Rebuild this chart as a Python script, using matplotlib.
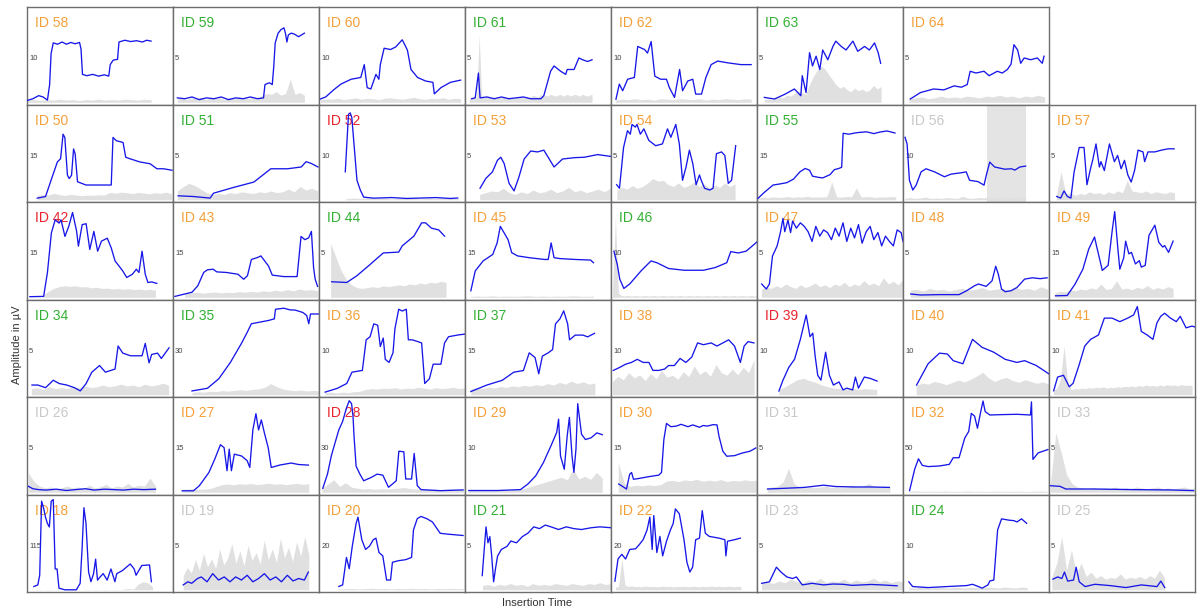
import numpy as np
import matplotlib.pyplot as plt

plt.rcParams['font.family'] = ['Liberation Sans', 'DejaVu Sans']

# (time %, amplitude uV) breakpoints of every recording trace
trace_58 = [(0, .4), (4, .8), (8, 1.5), (11, 1.2), (14, .5), (15.5, 4), (16.5, 11), (18, 13.4), (21, 13.1), (24, 13.6), (27, 13.1), (30, 13.5), (33, 13.2), (36, 13.5), (37, 12), (38, 6.3), (41, 6.0), (45, 6.3), (49, 5.9), (53, 6.2), (56, 5.9), (57, 8.5), (59, 9.5), (62, 9.7), (63, 13.6), (67, 14.0), (71, 13.7), (75, 13.9), (79, 13.6), (82, 14.0), (85, 13.8)]
trace_59 = [(3, .5), (8, .4), (13, .6), (18, .3), (23, .5), (28, .4), (33, .6), (38, .3), (43, .5), (48, .4), (53, .6), (58, .4), (62, .5), (63, 2.0), (66, 2.2), (68, 2.0), (69, 4), (70, 6.7), (72, 7.8), (74, 8.2), (76, 8.4), (77, 7.8), (78, 6.8), (79, 7.6), (81, 7.8), (83, 7.7), (86, 7.4), (88, 7.6), (90, 7.8)]
trace_60 = [(1, .75), (4.6, 1.2), (10, 2.8), (15, 4.1), (22, 5.2), (28.6, 5.6), (31, 8.5), (33, 3.3), (35.5, 3.0), (39, 6.3), (41, 5.2), (42, 8.5), (44.6, 12.2), (49, 11.9), (52.6, 12.5), (57, 14.1), (59.5, 12.5), (60.6, 11.7), (63, 7.4), (67.5, 5.6), (73, 4.8), (78, 4.5), (79, 1.9), (83.5, 3.3), (90, 4.5), (97, 5.0)]
trace_61 = [(4.6, .4), (7, .5), (9.2, 3.3), (10.3, .5), (15, .6), (20, .4), (25, .6), (30, .4), (35, .5), (40, .6), (45, .4), (52, .4), (54, .75), (58.6, 3.5), (61, 4.1), (65.5, 3.5), (69, 3.15), (70, 3.7), (74.7, 3.7), (78, 5.0), (80.5, 4.8), (84, 4.6), (87, 4.8)]
trace_62 = [(3.4, .7), (5.7, 4.1), (8, 2.6), (11.4, 5.2), (16, 5.6), (18.3, 12.6), (23, 11.9), (25, 11.1), (27.5, 13.7), (30, 5.9), (34, 5.2), (38, 5.2), (40, 3.3), (43.5, 1.1), (47, 7.4), (49, 2.6), (52.6, 4.8), (56, 5.2), (58, 1.85), (62, 1.85), (65, 5.6), (68.6, 8.5), (73, 9.3), (80, 8.9), (89, 8.5), (96, 8.5)]
trace_63 = [(5, .55), (12, .37), (19, .9), (25.6, 1.5), (30, .74), (31, 3.0), (33.6, 1.1), (36, 5.6), (38, 4.1), (40.5, 5.2), (43, 3.7), (45, 5.9), (48.5, 4.8), (52, 6.3), (54, 6.9), (57.7, 6.3), (61, 5.9), (65.7, 6.9), (69, 5.75), (73.7, 6.3), (77, 5.9), (80.5, 6.7), (83, 5.6), (84.7, 4.4)]
trace_64 = [(5, .37), (12, 1.1), (21, 1.5), (28, 1.4), (35, 1.85), (40, 1.7), (44, 2.0), (46, 3.5), (50, 3.3), (55.5, 3.5), (59, 3.0), (64.6, 3.5), (68, 3.3), (71.5, 3.7), (74, 4.3), (76, 6.5), (78.5, 5.9), (80.6, 4.4), (83, 5.0), (87.4, 4.8), (92, 5.0), (95.4, 4.4), (96.6, 5.2)]

trace_50 = [(7, .55), (12.7, 1.1), (17.3, 7.8), (20.8, 12.8), (23, 13.9), (24.7, 22.2), (25.9, 21.1), (27.7, 8.3), (28.9, 7.2), (30.5, 8.3), (31.9, 17.2), (33, 15.5), (34.6, 6.1), (40.4, 5.0), (49.7, 5.0), (57.7, 5.0), (58.9, 21.1), (61.2, 20), (65.8, 19.4), (67.6, 14.4), (70.4, 13.9), (77.4, 12.8), (84.3, 12.2), (89, 10.5), (93.5, 10.5), (99.3, 10)]
trace_51 = [(3.5, .45), (13.9, .37), (25.4, .19), (27.7, .74), (41.6, 1.4), (55.4, 2.0), (67, 3.5), (78.5, 3.5), (87.8, 3.7), (91.2, 4.3), (94.7, 4.1), (99.3, 3.7)]
trace_52 = [(18, 6.3), (20.2, 19.3), (21.4, 19.6), (22.5, 18.5), (26, 4.4), (28.3, 2.2), (30.6, .6), (37.5, .37), (50, .5), (60, .3), (70, .4), (80, .5), (90, .3), (95, .4)]
trace_53 = [(10.3, 1.3), (14.2, 2.4), (18.8, 3.15), (22.2, 4.45), (24.5, 4.8), (26.8, 4.1), (30.2, 1.85), (33.6, 1.0), (37, 2.6), (40.5, 4.6), (45, 5.5), (49.7, 5.4), (54, 5.6), (57.7, 4.6), (61, 3.7), (66.8, 4.6), (74.8, 4.75), (81.7, 4.8), (90.8, 5.1), (99.5, 4.9)]
trace_54 = [(3.9, 1.7), (5.8, 1.3), (8.6, 5.9), (11.3, 7.8), (13.2, 7.4), (14.4, 8.5), (16.7, 8.2), (17.8, 8.5), (20.1, 7.4), (22.5, 8.0), (25.9, 6.7), (30.6, 6.1), (35.2, 6.3), (38.7, 8.0), (41, 7.05), (44.4, 8.5), (46.8, 6.3), (49, 2.2), (51.4, 3.7), (53.7, 5.6), (56, 4.1), (58.3, 1.7), (60.6, 2.8), (61.8, 2.2), (64.1, 1.3), (67.6, 1.1), (69.9, 1.3), (72.2, 5.2), (75.7, 5.4), (78, 5.0), (80.3, 1.85), (82.6, 2.2), (85.4, 6.1)]
trace_55 = [(0.7, .5), (5, 2.5), (11, 5), (15, 5.3), (20.5, 5.8), (25, 7), (29.5, 9.5), (33, 10.6), (36, 10.0), (38, 8), (42, 7.6), (45, 7.4), (50, 8.5), (53, 10.2), (56, 10.6), (58, 11), (59, 22.5), (63, 22.2), (67, 22.6), (70, 22.8), (75, 23), (80, 22.4), (84, 22.9), (89, 23.3), (94.5, 22.6)]
trace_56 = [(1.4, 14.1), (2.8, 12.6), (4.4, 4.4), (6.7, 2.2), (9, 3.3), (12.4, 6.3), (15.8, 7.0), (21.6, 6.3), (28.4, 5.2), (33, 5.8), (40, 6.1), (43.3, 6.3), (45.6, 4.4), (51.4, 4.1), (55.5, 3.3), (57.1, 5.6), (59.4, 8.5), (62.8, 7.4), (69.7, 6.9), (74.3, 7.0), (76.6, 6.7), (80, 7.4), (84, 7.6)]
trace_57 = [(5.3, .37), (8, .19), (10.3, 1.0), (12.6, .37), (15, .19), (17.2, 3.15), (20.7, 5.9), (24, 5.9), (26, 1.7), (28.7, 3.7), (29.9, 4.45), (32.2, 6.3), (34.5, 3.7), (35.6, 4.3), (37.9, 3.3), (41.4, 6.3), (44.8, 4.3), (47, 5.0), (49.4, 3.5), (51.7, 4.45), (54, 2.8), (56.3, 2.0), (58.6, 3.3), (61, 5.6), (64.4, 5.4), (65.5, 4.3), (67.8, 5.4), (72.4, 5.4), (77, 5.6), (81.6, 5.75), (85.7, 5.75)]

trace_42 = [(2, .2), (11.4, .3), (14, 8.4), (16.7, 21.8), (19.3, 26.2), (22, 25.1), (23.3, 26.2), (26, 20.6), (28.6, 24), (31.2, 28.7), (34, 22.3), (35.2, 17.3), (37.8, 24.6), (40.5, 24.9), (43, 16.2), (45.8, 22.3), (48.4, 15.6), (51, 19), (55, 20), (57.7, 16.7), (60.3, 12.3), (63, 10.6), (65.6, 8.9), (68.3, 6.7), (72.2, 7.8), (74.9, 9.5), (76.7, 8.4), (78.8, 15.6), (81, 7.8), (82.8, 5.0), (85.4, 5.2), (88.9, 4.7)]
trace_43 = [(1.3, .3), (7.9, 1.1), (13, 1.7), (17, 3.9), (21, 8.4), (23.6, 9.3), (27.5, 9.5), (30, 8.6), (36.6, 8.4), (44.5, 7.8), (48.4, 6.1), (51, 7.3), (53.7, 12.8), (57.6, 13.4), (60.2, 14), (62.8, 12.3), (65.4, 10.6), (68, 7.5), (76, 7.0), (85, 7.0), (87.7, 20.6), (90.3, 19.5), (92.9, 20.1), (94.8, 22.3), (96.3, 10), (97.4, 6.1), (99, 3.7)]
trace_44 = [(8.7, 1.75), (19, 1.67), (25.7, 2.4), (33.6, 3.5), (44, 5.0), (54.6, 5.1), (57, 5.8), (65, 6.9), (70.3, 8.4), (73, 8.4), (77, 7.8), (82, 7.6), (86, 6.9)]
trace_45 = [(4, 2.2), (7, 8.9), (12.4, 12.3), (19, 14.5), (22, 18.4), (24.2, 24), (26.8, 21.8), (29.5, 19.5), (32, 15.1), (36, 14), (44, 13.4), (54.5, 12.8), (57, 12.8), (59, 18.4), (61, 13.4), (65, 13.1), (75.5, 12.8), (86, 12.6), (88, 11.7)]
trace_46 = [(2, 10.4), (4.3, 7.4), (6, 4.1), (8.8, 2.0), (12.8, 3.0), (20.7, 6.0), (27.4, 8.2), (31.4, 7.8), (39.4, 6.5), (50, 6.1), (63.3, 6.1), (71.3, 6.7), (79.3, 7.8), (82, 10.3), (87.2, 10.0), (92.5, 10.4), (96.5, 11.5), (100, 12.5)]
trace_47 = [(3.2, 1.5), (6.4, .93), (8.5, 1.5), (10.6, 4.65), (13.8, 5.8), (16, 7.3), (17.8, 8.9), (19, 7.4), (21.2, 8.7), (23, 7.3), (24.4, 8.6), (27, 7.8), (29.7, 8.4), (32.4, 8.0), (35, 7.4), (37.7, 6.3), (40.3, 8.0), (43, 6.9), (45.6, 7.6), (48.3, 7.3), (51, 6.5), (53.6, 7.8), (56.2, 6.9), (58.9, 8.4), (61.5, 6.3), (64.2, 7.8), (66.8, 6.7), (69.5, 8.2), (72, 6.1), (74.8, 7.4), (77.5, 8.0), (80, 6.5), (82.8, 7.3), (85.4, 5.8), (88, 6.9), (90.7, 6.3), (93.4, 5.8), (96, 7.6), (98.7, 7.3), (100, 6.3)]
trace_48 = [(5.3, .37), (12, .26), (25, .3), (38.4, .3), (43.6, .74), (49, 1.3), (51.6, 1.5), (57, 1.23), (61, 1.86), (63.5, 3.5), (65.3, 2.6), (67.5, .93), (70, .63), (74, .74), (78, 1.1), (83.3, 2.05), (88.6, 2.2), (94, 2.1), (98.7, 2.2)]
trace_49 = [(4.5, .5), (12.5, .6), (17.9, 4.5), (23.2, 9.5), (27.2, 16.3), (31.2, 20.4), (32.5, 17.5), (36.5, 9.1), (40.5, 10.8), (43.2, 22.2), (45, 29), (47.2, 16.3), (48.5, 9.5), (51.2, 13.4), (52.5, 19), (54.7, 14.7), (56.5, 15.2), (59.2, 11.3), (61.9, 12.4), (63.2, 10.2), (65.9, 10.8), (68.5, 21), (72.5, 24.4), (75.2, 18.6), (77.9, 17), (79.2, 17.5), (81.9, 15.2), (85, 19)]

trace_34 = [(3.4, 1.1), (7.4, 1.1), (12.7, .8), (18, 1.64), (22, 1.27), (27.2, 1.1), (32.5, .8), (36.5, .44), (40.5, 1.27), (44.4, 2.55), (49.7, 3.3), (53.7, 2.55), (60.3, 2.9), (62.4, 5.5), (65.6, 4.7), (70.9, 4.4), (76.2, 4.4), (78.8, 4.4), (81, 5.8), (83.6, 3.6), (85.4, 4.55), (89.4, 4.7), (92, 4.1), (97.3, 5.3)]
trace_35 = [(13, 2.6), (23.6, 4.4), (31.4, 10.9), (39.3, 21.9), (47, 35), (51, 42.6), (53.7, 48.1), (65.4, 50.3), (69.4, 51.4), (70.2, 57.9), (76, 58.6), (80, 57.5), (83.8, 57.3), (89, 55.7), (91.6, 53.6), (93, 48.1), (94.2, 54.7), (100, 54.7)]
trace_36 = [(4.2, .6), (12.6, 1.46), (19, 2.55), (22.6, 5.1), (29.7, 5.5), (32.3, 12.4), (35, 13.1), (37.5, 16), (40.2, 15.7), (42, 10.9), (44, 12.8), (45.4, 8.0), (48, 7.3), (50.7, 9.5), (52, 14.9), (54.6, 19.3), (57, 18.9), (59.8, 19.3), (61.2, 12.4), (63.8, 12.4), (67.7, 12), (70.3, 11.7), (72.4, 2.55), (75.6, 3.6), (78.2, 6.9), (83.5, 6.9), (86, 11.7), (88.7, 13.1), (95.3, 13.5), (100, 13.7)]
trace_37 = [(4, 1.1), (15, 3.3), (25.5, 4.9), (33.4, 7.65), (40, 8.2), (44, 14.2), (48, 12.6), (50.5, 7.1), (53, 13.1), (57, 14.2), (60, 15.3), (62, 24), (65, 25.7), (67.6, 28.4), (70.3, 24), (71.6, 18.6), (75.5, 20.2), (80.8, 20.2), (84, 19.6), (88.7, 20.8)]
trace_38 = [(1.6, 5.5), (6.1, 6.2), (10, 6.9), (14, 7.3), (18, 8.0), (22, 7.3), (26, 7.3), (28.7, 5.5), (32.7, 5.5), (36.7, 5.8), (39.4, 6.6), (43.4, 6.6), (47.3, 8.2), (51.3, 7.3), (55.3, 8.5), (59.3, 11.7), (63.3, 11.3), (68.6, 11.7), (72.6, 11.0), (76.6, 11.7), (80.6, 12.4), (84.6, 11.0), (88.6, 7.3), (91.2, 11.0), (93.9, 12.0), (97.9, 11.7)]
trace_39 = [(15, .85), (17.8, 3.3), (21.8, 6.2), (25.7, 8.0), (29.7, 12.5), (33.7, 18.0), (36.3, 13.1), (38.2, 13.9), (39.8, 8.8), (41.6, 4.4), (43.8, 3.3), (47, 9.6), (49.6, 4.4), (52.3, 2.2), (56.2, 2.9), (58.9, 1.1), (61.5, 1.5), (65.5, 1.1), (67.4, 4.0), (69.5, 1.5), (73.5, 4.0), (77.5, 3.7), (82.2, 3.1)]
trace_40 = [(9.3, 2.2), (17.2, 7.0), (25, 9.4), (30.4, 9.2), (34.4, 7.7), (41, 7.0), (47.6, 12.5), (54.2, 10.7), (62.2, 9.6), (70, 8.0), (78, 7.3), (83.3, 7.7), (91.3, 6.6), (100, 4.7)]
trace_41 = [(3.2, .9), (5.9, 4.0), (9.9, 4.4), (13.9, 1.8), (16.5, 2.6), (20.5, 6.6), (24.5, 11), (28.5, 12.5), (33.9, 13.5), (37.9, 17.3), (43.2, 17.3), (48.5, 16.5), (53.9, 17.3), (57.9, 18), (60.5, 19.9), (63.2, 14.3), (67.2, 13.5), (71.2, 12.5), (73.9, 16.2), (76.5, 17.7), (79.2, 18.4), (83.2, 17.3), (87.2, 16.5), (89.9, 17.7), (93.9, 15.1), (97.9, 15.5), (100, 15.3)]

trace_26 = [(1, .67), (4, .4), (8, .3), (13, .25), (20, .35), (27, .2), (33, .3), (40, .4), (46, .25), (53, .35), (60, .3), (66, .25), (73, .35), (80, .3), (88, .35)]
trace_27 = [(6.3, .5), (14, .5), (18, 2.2), (24.6, 6.7), (28.5, 11.1), (32.5, 16.1), (35, 15.1), (37, 7.3), (38.5, 14.6), (40, 7.3), (42, 12.9), (46.9, 12.3), (50.8, 10.7), (52.6, 8.4), (54.7, 21.1), (56.8, 26.6), (58.6, 21.1), (60.5, 24.5), (62.6, 20.1), (65.2, 15.1), (67.3, 8.4), (73, 9.2), (80.9, 9.9), (86, 9.4), (92.7, 9.2)]
trace_28 = [(2.6, 2.7), (5.8, 12.3), (8.4, 24.5), (11, 33.5), (13.6, 42.3), (16.2, 48), (18.8, 57), (20.7, 62), (22.3, 60), (23.3, 51.5), (24, 38), (25.4, 17.7), (28, 12.3), (30.6, 7.8), (35.9, 10.1), (39.8, 12.3), (43.7, 11.6), (47.6, 3.4), (50.3, 5.6), (52.9, 7.8), (54.7, 27.8), (58.1, 27.4), (59.4, 9), (63.4, 9), (65.2, 26.3), (67.3, 4.5), (69.9, 1.8), (83, 1.1), (98.7, 1.6)]
trace_29 = [(2.6, .4), (22.3, .4), (38, .6), (43.2, 1.9), (48.4, 3.7), (53.7, 6.7), (58.9, 10.5), (62.8, 13.5), (64.1, 16.5), (65.4, 8.2), (68, 5.2), (70, 12.7), (71.5, 16.9), (73.3, 8.2), (74.6, 4.5), (76, 9.7), (77.2, 20), (79.8, 13.1), (82.5, 11.9), (86.4, 12.3), (90.3, 13.4), (94, 13)]
trace_30 = [(5.3, 2.8), (8.8, 1.7), (10.6, 1.1), (12.8, 6.1), (14.1, 6.7), (15.4, 4.4), (19.4, 4.7), (26, 5.3), (32.7, 5.8), (34.6, 6.7), (36.2, 17.8), (38, 23.3), (41, 22.2), (44.7, 22.4), (48, 23.0), (52.7, 22.2), (56, 22.8), (60.6, 22), (63, 22.6), (66, 22.4), (70, 22.9), (72.6, 22.8), (74, 18.9), (76.6, 13.9), (79.3, 12.2), (84.6, 12.4), (90, 13.3), (95.2, 13.9), (99.2, 15)]
trace_31 = [(7.2, .37), (19, .45), (32.4, .55), (45.6, .8), (53.6, .65), (66.8, .6), (77.5, .6), (90.7, .55)]
trace_32 = [(4.5, 1.9), (8, 26), (10.6, 37.8), (13.2, 30.4), (17.2, 29), (25, 29.7), (31.7, 31.5), (34.4, 39), (38.4, 39), (42.3, 61.2), (45, 68.6), (46.8, 89), (49, 86), (51, 72.3), (53, 89), (54.8, 103), (56.3, 91), (59.5, 87.2), (67.5, 87.6), (78, 88), (87.3, 87.2), (88, 102), (89, 37.1), (92.6, 44.5), (99.2, 48.2)]
trace_33 = [(1, .74), (7.5, .67), (11.5, .37), (31, .37), (58, .3), (84, .26), (99, .19)]

trace_18 = [(4.7, 8.4), (7.4, 12.6), (8.7, 37.7), (10, 230), (11.3, 213), (12.7, 188), (14, 172), (15.3, 163), (16.6, 230), (18, 234), (19.3, 54), (20.6, 54), (21.9, 4.2), (25.9, 0), (33.8, 0), (36.4, 16.7), (37.7, 105), (39, 213), (40.4, 172), (42.2, 46), (43.8, 21), (45.6, 42), (47, 79.5), (48.3, 25), (50.1, 33.5), (52.2, 42), (54.9, 25), (57.5, 54), (60.2, 21), (61.5, 42), (65.4, 50), (70.7, 67), (73.4, 54), (74.7, 37.7), (78.6, 63), (83.9, 64.5), (85.2, 21)]
trace_19 = [(7, .55), (10.2, .9), (12.8, .73), (16.8, 1.27), (19.4, 1.45), (23.3, .9), (27.2, 1.82), (31.2, 1.1), (35.1, 1.45), (39, .9), (42.9, 1.45), (46.9, 1.1), (50.8, 1.64), (54.7, .9), (58.6, 1.27), (62.6, 1.82), (66.5, 1.1), (70.4, 1.45), (74.3, .9), (78.3, 1.64), (82.2, 1.0), (86.1, 1.27), (90, 1.1), (92.7, 2.0)]
trace_20 = [(13.6, 1.5), (16.2, 2.2), (18.8, 14.6), (20.7, 9.5), (22.8, 19.7), (25.4, 29.9), (26.7, 32.8), (29.3, 22.6), (31.9, 18.2), (34.6, 19.7), (37.2, 22.6), (39, 23.3), (41.1, 16.8), (43.7, 15.3), (46.3, 4.4), (49, 4.4), (50.3, 12.4), (54.2, 13.1), (59.4, 13.6), (63.4, 14.6), (64.7, 27), (67.3, 32.1), (69.9, 33.1), (73.8, 32.1), (77.7, 30.6), (83, 25.5), (88.2, 25.1), (93.5, 24.8), (98.7, 24.5)]
trace_21 = [(11.8, 1.6), (13, 4.2), (14.4, 7.1), (15.7, 5.3), (17, 6.0), (18.3, 3.8), (19.6, .9), (20.9, 2.4), (22.3, 3.8), (24.9, 4.55), (28.8, 4.9), (31.4, 5.5), (35.3, 5.3), (39.3, 6.0), (43.2, 6.4), (47.1, 7.1), (51, 6.9), (55, 7.3), (58.9, 7.1), (64.1, 6.8), (69.4, 7.1), (74.6, 6.9), (79.8, 6.8), (86.4, 7.0), (92.4, 7.1), (100, 7.0)]
trace_22 = [(2.7, 3.9), (4.8, 13.9), (7.4, 16), (10, 13.9), (12.8, 18.2), (16.8, 18.5), (19.4, 20.4), (22, 22.6), (24.7, 27), (26.6, 32.8), (28.2, 18.2), (29.3, 33.5), (31.4, 16.8), (33.5, 24.1), (35.4, 15.3), (38, 21.9), (40.7, 27), (42.6, 29.9), (44.1, 36.5), (46.8, 34.3), (50, 22.6), (52, 12.4), (54, 8), (55.9, 10.2), (58, 22.6), (60.6, 23.3), (62.5, 35.7), (64.6, 25.5), (67.3, 24.1), (74, 23.3), (78, 22.6), (78.7, 15.3), (79.8, 21.9), (84.6, 22.6), (88.6, 23.3)]
trace_23 = [(3.2, .73), (8.5, .9), (13.3, 2.55), (16.4, 2.0), (20.4, 1.45), (24.4, 1.27), (27, 1.45), (31, .55), (37.7, .73), (45.6, .55), (52, .65), (59, .62), (65, .5), (72, .55), (78, .6), (85.4, .55), (96, .45)]
trace_24 = [(4, 1.8), (6.6, .73), (17.2, .5), (30.4, .73), (43.6, .95), (47.6, 1.24), (51.6, .73), (54.2, .36), (58.2, 1.1), (59.5, 2.0), (62.2, 2.2), (64.8, 13.5), (67.5, 16), (72.8, 15.7), (76, 15.6), (78, 15.3), (81.2, 16), (84.7, 15)]
trace_25 = [(2.7, 1.2), (6, 1.45), (8.8, 1.27), (10.6, 2.0), (12.8, .98), (16.8, 1.1), (18.6, 2.55), (20.7, .9), (24.7, .36), (31.4, .62), (42, .47), (52.7, .25), (63.3, .55), (74, .36), (76.6, .98), (79.3, .25)]

# background noise floor: (start %, end %, evenly spaced levels in uV)
floor_58 = (0, 85, [.5, .6, .4, .6, .5, .7, .5, .6, .4, .6, .5, .7, .5, .6, .5, .7, .6, .5, .7, .6])
floor_59 = (3, 90, [.4, .5, .3, .5, .4, .6, .3, .5, .4, .5, .3, .5, .4, .6, .5, .4, .6, .5, .8, 1.0, .9, 1.2, .8, 1.0, 2.6, .9, 1.1, .8])
floor_60 = (1, 97, [.6, .8, .7, .9, .6, .8, 1.0, .7, .9, .8, .6, .9, 1.0, .8, .7, .9, 1.1, .8, .7, .9, .8, 1.0, .7, .9, .8])
floor_61 = (3, 87, [.5, .6, .5, .6, 7.6, .6, .5, .6, .7, .5, .6, .4, .6, .5, .7, .5, .6, .5, .4, .6, .5, .7, .5, .6, .5,
                    .6, .8, .7, .6, .9, .7, .8, .7, .9, .8, .7, .8, .9, .7, .8, .9, .7, .8, .9, .8, .7, .9, .8, .7, .8, .9])
floor_62 = (3, 96, [.5, .7, .6, .8, .6, .7, .5, .8, .7, .6, .8, .7, .6, .8, .5, .7, .6, .8, .7, .6, .8, .7])
floor_63 = (5, 85, [.3, .4, .3, .5, .6, .5, .8, .7, 1.0, 1.3, 1.1, .9, 2.0, 2.9, 3.6, 4.1, 3.8, 3.2, 2.6, 2.0, 1.6, 1.8, 1.4, 1.2, 1.6, 1.3, 1.5, 1.2, 1.4, 1.9, 1.5, 1.8])
floor_64 = (4, 97, [.4, .5, .6, .4, .5, .7, .5, .6, .5, .7, .6, .5, .7, .6, .8, .6, .7, .5, .7, .6, .8, .6])

floor_50 = (7, 99, [1.5, 1.8, 1.6, 2.2, 1.7, 1.5, 1.8, 1.6, 1.4, 1.6, 1.5, 1.7, 1.6, 2.5, 2.2, 2.6, 2.4, 2.1, 2.5, 2.3, 2.0, 2.4, 2.2, 2.6, 2.0])
floor_51 = (3, 99, [1.0, 1.5, 1.85, 1.6, 1.2, .8, .6, .7, .6, .8, .7, .9, .8, .7, .9, .8, 1.0, .8, .9, 1.2, .9, 1.5, 1.1, 1.3, 1.0])
floor_52 = (18, 96, [.2, .4, .3, .5, .3, .4, .2, .3, .4, .3, .2, .4, .3, .3, .4, .2])
floor_53 = (10, 99.5, [.6, .8, 1.0, .9, 1.3, .8, .6, .9, .7, 1.1, .8, .9, 1.2, .8, 1.0, 1.4, .9, 1.1, .8, 1.0, 1.2, .9, 1.3])
floor_54 = (4, 85, [1.1, 1.4, 1.2, 1.6, 1.3, 1.5, 1.9, 2.4, 2.1, 2.2, 1.7, 1.5, 1.9, 1.4, 1.6, 2.0, 1.5, 1.8, 1.3, 1.7, 1.4, 1.9, 1.5, 1.8])
floor_55 = (0.7, 95, [.6, .9, .7, 1.0, .8, .9, 1.1, .8, 1.0, .9, 1.2, .9, 1.0, .9, 1.1, 6.0, 1.0, .9, 1.1, 1.0, 4.0, .9, 1.1, 1.0, .8, 1.0, .9, 1.1, 1.0])
floor_56 = (1, 84, [.3, .5, .3, .4, .6, .3, .4, .3, .5, .4, .3, .8, .4, .3, .5, .4, .6, .3, .4, .7, .4, .5, .6, .4])
floor_57 = (5, 86, [.5, 3.2, .6, .8, .5, .7, .6, .9, .7, .8, .6, .9, .7, 1.0, .8, 2.2, 1.0, .9, .8, 1.0, .7, .9, .8, .7, .9, .8])

floor_42 = (11, 88, [.8, 2.0, 3.0, 3.6, 3.9, 3.7, 3.9, 3.5, 3.6, 3.2, 3.4, 3.0, 3.1, 2.8, 3.0, 2.7, 2.9, 2.6, 2.8, 2.5, 2.7, 2.4])
floor_43 = (8, 99, [1.2, 1.5, 1.7, 1.4, 1.6, 1.8, 1.5, 1.7, 1.6, 1.9, 1.7, 2.0, 1.8, 2.2, 1.9, 2.4, 2.1, 2.6, 2.2, 2.8, 2.4, 2.6, 2.2])
floor_44 = (8, 87, [6.1, 4.5, 3.0, 2.0, 1.4, 1.1, 1.0, 1.1, 1.2, 1.1, 1.3, 1.2, 1.3, 1.4, 1.3, 1.5, 1.4, 1.6, 1.5, 1.7, 1.6, 1.8, 1.7])
floor_45 = (4, 88, [.3, .4, .3, .5, .3, .4, .3, .4, .5, .3, .4, .3, .4, .3, .5, .4, .3, .4])
floor_46 = (1, 100, [1, 18, 1, .4, .3, .4, .3, .3, .4, .3, .3, .4, .3, .3, .4, .3, .3, .4, .3, .3, .4, .3, .3, .4, .3,
                     .3, .4, .3, .3, .4, .3, .3, .4, .3, .3, .4, .3, .3, .4, .3, .3, .4, .3, .3, .4, .3, .3, .4, .3, .3])
floor_47 = (3, 100, [.9, 1.2, 1.0, 1.3, 1.1, 1.5, 1.2, 1.0, 1.4, 1.1, 1.3, 1.6, 1.2, 1.4, 1.1, 1.5, 1.3, 1.7, 1.2, 1.5, 1.3, 1.9, 1.4, 1.6, 1.3, 2.2, 1.5, 1.8, 1.4, 2.0])
floor_48 = (5, 99, [.8, .9, .7, 1.0, .8, .9, .7, .9, 1.0, .8, .9, 1.1, .8, .9, 1.0, .8, 1.1, .9, 1.0, .8, 1.2, .9])
floor_49 = (4, 85, [1.5, 2.0, 1.8, 2.5, 2.2, 2.8, 2.5, 3.2, 2.8, 4.5, 2.6, 3.0, 5.6, 2.8, 3.1, 2.6, 3.4, 2.9, 4.0, 2.7, 3.3, 2.8, 3.6, 3.0])

floor_34 = (3, 97, [.7, .8, .6, .9, .7, .8, .7, .9, .8, 1.0, .8, .9, 1.1, .9, 1.0, 1.2, 1.0, 1.1, .9, 1.2, 1.0, 1.1, 1.3, 1.1])
floor_35 = (13, 100, [1.5, 2.0, 1.8, 2.4, 2.2, 2.8, 2.5, 3.0, 3.4, 3.0, 3.6, 4.0, 5.0, 7.6, 5.5, 4.0, 3.2, 2.8, 3.2, 2.6, 3.0, 2.6])
floor_36 = (4, 100, [.5, .6, .4, .6, .5, .7, .8, 1.2, 1.4, 1.3, 1.5, 1.4, 1.6, 1.3, 1.5, 1.4, 1.7, 1.5, 1.3, 1.6, 1.4, 1.5, 1.7, 1.4, 1.6])
floor_37 = (4, 89, [2.0, 2.4, 2.1, 2.6, 2.3, 2.8, 2.5, 3.0, 2.7, 3.2, 2.9, 3.4, 3.1, 3.8, 3.3, 4.2, 3.6, 4.6, 3.8, 4.4, 3.6, 4.0])
floor_38 = (1, 98, [3.0, 4.2, 3.4, 5.0, 3.8, 4.5, 3.2, 4.8, 3.6, 5.5, 4.0, 4.4, 3.5, 5.2, 4.1, 6.5, 4.6, 5.4, 4.2, 6.8, 5.0, 4.4, 5.8, 4.5, 6.2, 5.0, 8.0])
floor_39 = (15, 82, [1.2, 1.8, 2.6, 3.4, 3.7, 3.2, 2.8, 2.2, 1.8, 1.5, 1.4, 1.3, 1.5, 1.2, 1.4, 1.3, 1.2])
floor_40 = (9, 100, [2.2, 2.6, 2.4, 3.0, 2.7, 2.3, 2.8, 3.3, 2.9, 3.5, 4.2, 5.1, 3.8, 3.0, 3.6, 3.9, 3.2, 2.8, 3.4, 3.0, 2.6, 2.9, 2.4])
floor_41 = (3, 98, [1.0, 1.5, 3.5, 11, 3.0, 1.2, 1.4, 1.3, 1.5, 1.4, 1.6, 1.5, 1.7, 1.6, 1.8, 1.5, 1.7, 1.6, 1.8, 1.7,
                    1.9, 1.8, 2.0, 1.8, 2.1, 1.9, 2.2, 2.0, 2.1, 1.9, 2.2, 2.0, 2.3, 2.1, 2.2, 2.0, 2.3, 2.1, 2.2, 2.1])

floor_26 = (1, 88, [2.2, 1.2, .7, .5, .6, .4, .5, .7, .5, .6, .4, .8, .5, .6, .9, .5, .7, .6, 1.0, .6, .8, .7, 1.6, .7])
floor_27 = (6, 93, [1.0, 1.1, 1.2, 1.0, 1.1, 1.3, 2.0, 2.6, 2.8, 2.5, 2.9, 2.7, 3.0, 2.6, 2.8, 3.1, 2.7, 2.9, 2.6, 2.8, 3.0, 2.7, 2.9])
floor_28 = (2, 99, [3.0, 5.5, 8.5, 4.0, 6.5, 3.5, 2.8, 2.2, 2.5, 2.0, 2.4, 2.2, 2.6, 2.8, 3.2, 2.5, 2.2, 2.4, 2.0, 2.2, 1.8, 2.0, 2.2, 1.8, 2.0])
floor_29 = (2, 94, [.5, .4, .5, .6, .4, .5, .6, .5, .7, .6, 1.0, 1.4, 1.8, 2.2, 2.6, 3.0, 3.4, 2.8, 5.2, 3.0, 3.6, 2.9, 4.5, 3.2])
floor_30 = (5, 100, [10, 3.0, 2.0, 2.4, 2.2, 2.5, 2.3, 2.6, 3.8, 4.0, 3.6, 4.2, 3.9, 4.4, 3.7, 4.1, 3.8, 4.3, 3.6, 4.0, 3.8, 4.2, 3.9, 4.1])
floor_31 = (7, 91, [.5, .6, .7, 1.2, 2.7, 1.0, .6, .5, .6, .5, .6, .7, .5, .6, .5, .6, .8, .6, .7, 1.0, .7, .6, .7, .6])
floor_32 = (4, 99, [1.2, 1.5, 1.0, 1.3, 1.1, 1.4, 1.0, 1.2, 1.5, 1.1, 1.3, 1.0, 1.4, 1.2, 1.1, 1.3, 1.0, 1.2, 1.4, 1.1])
floor_33 = (1, 100, [1.0, 6.7, 4.5, 2.0, 1.0, .6, .5, .4, .5, .4, .5, .4, .6, .4, .5, .4, .6, .5, .4, .5, .6, .4, .5, .4, .5, .6, .4, .5])

floor_18 = (5, 86, [0, 1, 0, 1, 0, 1, 0, 1, 0, 1, 0, 1, 0, 1, 0, 1, 0, 1, 0, 2, 3, 2, 15, 21, 18, 8])
floor_19 = (7, 93, [1.6, 2.5, 1.9, 3.4, 2.2, 4.1, 2.6, 3.5, 2.4, 4.6, 2.8, 3.6, 5.2, 3.0, 4.4, 2.7, 5.0, 3.3, 4.2, 2.9, 5.6, 3.4, 4.6, 3.1, 5.8, 3.6, 4.8, 3.2, 5.4, 3.8, 6.0, 4.0])
floor_20 = (13, 99, [.4, .5, .6, .4, .5, .7, .5, .6, .4, .6, .5, .7, .5, .6, .4, .6, .5, .7, .5, .6])
floor_21 = (12, 100, [.5, .6, .4, .6, .5, .7, .5, .6, .4, .7, .5, .6, .5, .7, .6, .5, .7, .6, .5, .7, .6, .8, .6, .7])
floor_22 = (3, 89, [1.2, 1.4, 14, 2.0, 1.5, 1.8, 1.4, 1.6, 1.3, 1.7, 1.5, 1.4, 1.6, 1.3, 1.5, 1.7, 1.4, 1.6, 1.3, 1.5,
                    1.4, 1.6, 1.5, 1.4, 1.6, 1.5, 1.3, 1.6, 1.4, 1.5, 1.7, 1.4, 1.6, 1.5, 1.4, 1.6, 1.5, 1.4, 1.6, 1.5])
floor_23 = (3, 100, [.8, .9, .7, 1.0, .8, 1.2, .9, .8, 1.1, .9, 1.3, .8, 1.0, .9, 1.2, .8, 1.1, .9, 1.0, 1.3, .9, 1.1, .8, 1.0, .9])
floor_24 = (4, 85, [.5, .4, .6, .5, .4, .6, .5, .4, .6, .5, .4, .6, .5, .4, .6, .5, .4, .6, .5, .4, .6, .5])
floor_25 = (2, 79, [1.5, 3.0, 6.0, 2.2, 4.5, 1.8, 3.0, 1.5, 2.0, 1.3, 1.6, 1.2, 1.4, 1.3, 1.8, 1.2, 1.4, 1.3, 1.5, 1.2, 1.6, 1.3, 2.2, 1.4])

# one y tick per recording
tick_value = {
    58: 10, 59: 5, 60: 10, 61: 5, 62: 10, 63: 5, 64: 5,
    50: 15, 51: 5, 52: 10, 53: 5, 54: 5, 55: 15, 56: 10, 57: 5,
    42: 15, 43: 15, 44: 5, 45: 15, 46: 10, 47: 5, 48: 5, 49: 15,
    34: 5, 35: 30, 36: 10, 37: 15, 38: 10, 39: 10, 40: 10, 41: 10,
    26: 5, 27: 15, 28: 30, 29: 10, 30: 15, 31: 5, 32: 50, 33: 5,
    18: 115, 19: 5, 20: 20, 21: 5, 22: 20, 23: 5, 24: 10, 25: 5,
}

# g = good, m = medium, b = bad, x = rejected
quality = {
    58: 'm', 59: 'g', 60: 'm', 61: 'g', 62: 'm', 63: 'g', 64: 'm',
    50: 'm', 51: 'g', 52: 'b', 53: 'm', 54: 'm', 55: 'g', 56: 'x', 57: 'm',
    42: 'b', 43: 'm', 44: 'g', 45: 'm', 46: 'g', 47: 'm', 48: 'm', 49: 'm',
    34: 'g', 35: 'g', 36: 'm', 37: 'g', 38: 'm', 39: 'b', 40: 'm', 41: 'm',
    26: 'x', 27: 'm', 28: 'b', 29: 'm', 30: 'm', 31: 'x', 32: 'm', 33: 'x',
    18: 'm', 19: 'x', 20: 'm', 21: 'g', 22: 'm', 23: 'x', 24: 'g', 25: 'x',
}
quality_color = {'g': '#33b033', 'm': '#f5a03a', 'b': '#e8242c', 'x': '#c8c8c8'}

# excluded stretch of a recording
excluded = {56: (57.6, 84.2)}

panels = [
    (58, trace_58, floor_58), (59, trace_59, floor_59), (60, trace_60, floor_60),
    (61, trace_61, floor_61), (62, trace_62, floor_62), (63, trace_63, floor_63),
    (64, trace_64, floor_64),
    (50, trace_50, floor_50), (51, trace_51, floor_51), (52, trace_52, floor_52),
    (53, trace_53, floor_53), (54, trace_54, floor_54), (55, trace_55, floor_55),
    (56, trace_56, floor_56), (57, trace_57, floor_57),
    (42, trace_42, floor_42), (43, trace_43, floor_43), (44, trace_44, floor_44),
    (45, trace_45, floor_45), (46, trace_46, floor_46), (47, trace_47, floor_47),
    (48, trace_48, floor_48), (49, trace_49, floor_49),
    (34, trace_34, floor_34), (35, trace_35, floor_35), (36, trace_36, floor_36),
    (37, trace_37, floor_37), (38, trace_38, floor_38), (39, trace_39, floor_39),
    (40, trace_40, floor_40), (41, trace_41, floor_41),
    (26, trace_26, floor_26), (27, trace_27, floor_27), (28, trace_28, floor_28),
    (29, trace_29, floor_29), (30, trace_30, floor_30), (31, trace_31, floor_31),
    (32, trace_32, floor_32), (33, trace_33, floor_33),
    (18, trace_18, floor_18), (19, trace_19, floor_19), (20, trace_20, floor_20),
    (21, trace_21, floor_21), (22, trace_22, floor_22), (23, trace_23, floor_23),
    (24, trace_24, floor_24), (25, trace_25, floor_25),
]

W, H = 1198, 609
fig = plt.figure(figsize=(W / 100, H / 100), dpi=100)

cell_w, cell_h = 146, 97.5
for pid, trace, floor in panels:
    if pid >= 58:
        row, col = 0, pid - 58
    else:
        row, col = 1 + (57 - pid) // 8, (pid - 18) % 8
    left = 27 + cell_w * col
    top = 7 + cell_h * row
    ax = fig.add_axes([left / W, 1 - (top + cell_h) / H, cell_w / W, cell_h / H])

    t = tick_value[pid]
    start, end, levels = floor
    fx = np.linspace(start, end, len(levels))
    ax.fill_between(fx, 0, levels, color='#e0e0e0', lw=0, zorder=1)
    if pid in excluded:
        ax.axvspan(*excluded[pid], color='#e4e4e4', lw=0, zorder=0.5)

    tx, ty = zip(*trace)
    ax.plot(tx, ty, color='#1717e8', lw=0.95, zorder=3)

    ax.set_xlim(0, 100)
    ax.set_ylim(-0.05 * t, 2.15 * t)
    ax.set_xticks([])
    ax.set_yticks([t])
    ax.tick_params(axis='y', length=0, pad=-1.5, labelsize=5.5, labelcolor='#444444')
    for lab in ax.get_yticklabels():
        lab.set_horizontalalignment('left')

    ax.text(0.055, 0.835, f'ID {pid}', transform=ax.transAxes, color=quality_color[quality[pid]],
            fontsize=10, ha='left', va='center', zorder=2)
    for s in ax.spines.values():
        s.set_color('#6e6e6e')
        s.set_linewidth(1.0)

fig.text(17 / W, 1 - 345 / H, 'Amplitude in µV', rotation=90, ha='center', va='center',
         fontsize=8, color='#333333')
fig.text(537 / W, 1 - 603 / H, 'Insertion Time', ha='center', va='center',
         fontsize=8, color='#333333')

fig.savefig('out.png', dpi=100, facecolor='white')
